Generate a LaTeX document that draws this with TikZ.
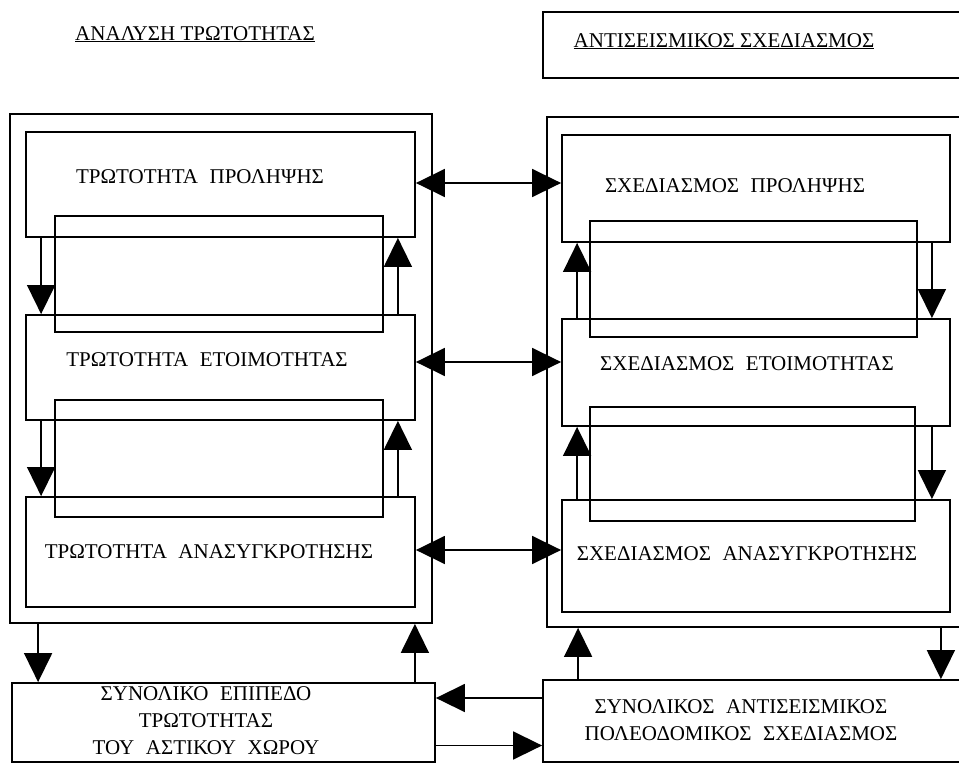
\documentclass[tikz,border=0pt]{standalone}
\usepackage{fontspec}
\setmainfont{Liberation Serif}
\usetikzlibrary{arrows.meta,positioning}
\newcommand{\wsp}{\hspace{0.55em}}
\tikzset{
  box/.style={draw, line width=1.8pt, inner sep=0pt},
  txt/.style={font=\fontsize{21}{27}\selectfont, inner sep=0pt, anchor=base},
  arr/.style={line width=1.6pt, -{Triangle[length=29pt,width=28pt]}},
  biarr/.style={line width=1.6pt, {Triangle[length=29pt,width=28pt]}-{Triangle[length=29pt,width=28pt]}}
}
\begin{document}
\begin{tikzpicture}[x=1pt, y=-1pt]
\useasboundingbox (0,0) rectangle (959,763);
% titles
\node[txt] (tL) at (195,40) {\underline{ΑΝΑΛΥΣΗ ΤΡΩΤΟΤΗΤΑΣ}};
\node[box, minimum width=432pt, minimum height=66pt] (RT) at (759,45) {};
\node[txt] (tR) at (724,47) {\underline{ΑΝΤΙΣΕΙΣΜΙΚΟΣ ΣΧΕΔΙΑΣΜΟΣ}};
% outer frames
\node[box, minimum width=422pt, minimum height=509pt] (OL) at (221,368.5) {};
\node[box, minimum width=428pt, minimum height=510pt] (OR) at (761,372) {};
% left column
\node[box, minimum width=389pt, minimum height=105pt] (L1) at (220.5,184.5) {};
\node[box, minimum width=389pt, minimum height=105pt] (L2) at (220.5,367.5) {};
\node[box, minimum width=389pt, minimum height=110pt] (L3) at (220.5,552) {};
\node[box, minimum width=328pt, minimum height=116pt] (OL1) at (219,274) {};
\node[box, minimum width=328pt, minimum height=117pt] (OL2) at (219,458.5) {};
\node[txt] (tL1) at (200,183) {ΤΡΩΤΟΤΗΤΑ\wsp ΠΡΟΛΗΨΗΣ};
\node[txt] (tL2) at (207,366) {ΤΡΩΤΟΤΗΤΑ\wsp ΕΤΟΙΜΟΤΗΤΑΣ};
\node[txt] (tL3) at (209,558) {ΤΡΩΤΟΤΗΤΑ\wsp ΑΝΑΣΥΓΚΡΟΤΗΣΗΣ};
% right column
\node[box, minimum width=388pt, minimum height=107pt] (R1) at (756,188.5) {};
\node[box, minimum width=388pt, minimum height=107pt] (R2) at (756,372.5) {};
\node[box, minimum width=388pt, minimum height=112pt] (R3) at (756,556) {};
\node[box, minimum width=327pt, minimum height=116pt] (OR1) at (753.5,279) {};
\node[box, minimum width=325pt, minimum height=114pt] (OR2) at (752.5,464) {};
\node[txt] (tR1) at (735,192) {ΣΧΕΔΙΑΣΜΟΣ\wsp ΠΡΟΛΗΨΗΣ};
\node[txt] (tR2) at (747,370) {ΣΧΕΔΙΑΣΜΟΣ\wsp ΕΤΟΙΜΟΤΗΤΑΣ};
\node[txt] (tR3) at (747,560) {ΣΧΕΔΙΑΣΜΟΣ\wsp ΑΝΑΣΥΓΚΡΟΤΗΣΗΣ};
% bottom boxes
\node[box, minimum width=423pt, minimum height=79pt] (BL) at (223.5,722.5) {};
\node[box, minimum width=432pt, minimum height=82pt] (BR) at (759,721) {};
\node[txt, anchor=center, align=center] (tBL) at (206,721) {ΣΥΝΟΛΙΚΟ\wsp ΕΠΙΠΕΔΟ\\ΤΡΩΤΟΤΗΤΑΣ\\ΤΟΥ\wsp ΑΣΤΙΚΟΥ\wsp ΧΩΡΟΥ};
\node[txt, anchor=center, align=center] (tBR) at (741,720) {ΣΥΝΟΛΙΚΟΣ\wsp ΑΝΤΙΣΕΙΣΜΙΚΟΣ\\ΠΟΛΕΟΔΟΜΙΚΟΣ\wsp ΣΧΕΔΙΑΣΜΟΣ};
% links inside the left frame
\draw[arr] ([xshift=16pt]L1.south west) -- ([xshift=16pt]L2.north west);
\draw[arr] ([xshift=16pt]L2.south west) -- ([xshift=16pt]L3.north west);
\draw[arr] ([xshift=-18pt]L2.north east) -- ([xshift=-18pt]L1.south east);
\draw[arr] ([xshift=-18pt]L3.north east) -- ([xshift=-18pt]L2.south east);
% links inside the right frame
\draw[arr] ([xshift=16pt]R2.north west) -- ([xshift=16pt]R1.south west);
\draw[arr] ([xshift=16pt]R3.north west) -- ([xshift=16pt]R2.south west);
\draw[arr] ([xshift=-19pt]R1.south east) -- ([xshift=-19pt]R2.north east);
\draw[arr] ([xshift=-19pt]R2.south east) -- ([xshift=-19pt]R3.north east);
% across
\draw[biarr] ([yshift=1.5pt]L1.east) -- ([yshift=1.5pt]L1.east -| R1.west);
\draw[biarr] ([yshift=5.5pt]L2.east) -- ([yshift=5.5pt]L2.east -| R2.west);
\draw[biarr] ([yshift=2pt]L3.east) -- ([yshift=2pt]L3.east -| R3.west);
% to and from the bottom boxes
\draw[arr] ([xshift=29pt]OL.south west) -- ([xshift=29pt]OL.south west |- BL.north);
\draw[arr] ([xshift=-21pt]BL.north east) -- ([xshift=-21pt]BL.north east |- OL.south);
\draw[arr] ([xshift=36pt]BR.north west) -- ([xshift=36pt]BR.north west |- OR.south);
\draw[arr] ([xshift=-35pt]OR.south east) -- ([xshift=-35pt]OR.south east |- BR.north);
\draw[arr] ([yshift=23pt]BR.west) -- ([yshift=23pt]BR.west -| BL.east);
\draw[arr] ([yshift=-23pt]BL.east) -- ([yshift=-23pt]BL.east -| BR.west);
\end{tikzpicture}
\end{document}
